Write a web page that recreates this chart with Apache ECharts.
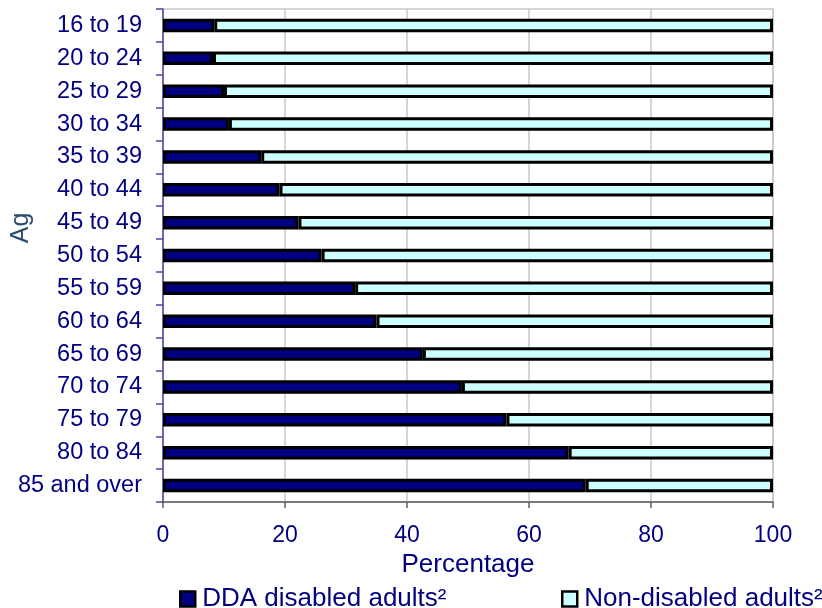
<!DOCTYPE html>
<html>
<head>
<meta charset="utf-8">
<script src="https://cdn.jsdelivr.net/npm/echarts@6/dist/echarts.min.js"></script>
<style>
html,body{margin:0;padding:0;background:#fff;}
#c{width:822px;height:608px;}
</style>
</head>
<body>
<div id="c"></div>
<script>
const categories = ['16 to 19','20 to 24','25 to 29','30 to 34','35 to 39','40 to 44','45 to 49','50 to 54','55 to 59','60 to 64','65 to 69','70 to 74','75 to 79','80 to 84','85 and over'];
const ddaDisabled = [8.4, 8.2, 10.0, 10.8, 16.1, 19.1, 22.2, 26.0, 31.5, 35.0, 42.6, 49.0, 56.3, 66.5, 69.3];
const nonDisabled = [91.6, 91.8, 90.0, 89.2, 83.9, 80.9, 77.8, 74.0, 68.5, 65.0, 57.4, 51.0, 43.7, 33.5, 30.7];
const xTicks = [0, 20, 40, 60, 80, 100];
const seriesNames = ['DDA disabled adults\u00B2', 'Non-disabled adults\u00B2'];
const yAxisTitle = 'Ag';

const FONT = 'Liberation Sans, Arial, sans-serif';
const NAVY = '#000080';
const chart = echarts.init(document.getElementById('c'));
chart.setOption({
  animation: false,
  textStyle: {fontFamily: FONT},
  grid: {left: 163, right: 49, top: 9, bottom: 106, show: true, borderColor: '#c8c8c8', borderWidth: 1.5,
         outerBoundsMode: 'none', containLabel: false},
  graphic: [{
    type: 'text', x: 21, y: 228, rotation: Math.PI / 2,
    style: {text: yAxisTitle, fill: '#2b4a72', font: '25px Liberation Sans, Arial, sans-serif',
            align: 'center', verticalAlign: 'middle'}
  }],
  legend: [
    {data: [seriesNames[0]], left: 174, top: 581, itemWidth: 15, itemHeight: 15, itemGap: 0,
     textStyle: {color: NAVY, fontSize: 26, fontFamily: FONT, padding: [0,0,0,2]}, icon: 'rect',
     itemStyle: {borderWidth: 2.5}},
    {data: [seriesNames[1]], left: 556, top: 581, itemWidth: 15, itemHeight: 15, itemGap: 0,
     textStyle: {color: NAVY, fontSize: 26, fontFamily: FONT, padding: [0,0,0,2]}, icon: 'rect',
     itemStyle: {borderWidth: 2.5}}
  ],
  xAxis: {
    type: 'value', min: xTicks[0], max: xTicks[xTicks.length-1], interval: 20,
    name: 'Percentage', nameLocation: 'middle', nameGap: 44,
    nameTextStyle: {color: NAVY, fontSize: 26, fontFamily: FONT},
    axisLine: {show: true, lineStyle: {color: '#606060', width: 1.5}},
    axisTick: {show: true, length: 6, lineStyle: {color: '#606060', width: 1.5}},
    axisLabel: {color: NAVY, fontSize: 23, fontFamily: FONT, margin: 22},
    splitLine: {show: true, lineStyle: {color: '#c8c8c8', width: 1.5}}
  },
  yAxis: {
    type: 'category', data: categories, inverse: true,
    axisLine: {show: true, lineStyle: {color: '#4848b0', width: 1.5}},
    axisTick: {show: true, length: 7, lineStyle: {color: '#4848b0', width: 1.5}},
    axisLabel: {color: NAVY, fontSize: 23.5, fontFamily: FONT, margin: 21},
    splitLine: {show: false}
  },
  series: [
    {name: seriesNames[0], type: 'bar', stack: 'a', data: ddaDisabled, barWidth: 13.5,
     itemStyle: {color: NAVY, borderColor: '#000', borderWidth: 3}},
    {name: seriesNames[1], type: 'bar', stack: 'a', data: nonDisabled, barWidth: 13.5,
     itemStyle: {color: '#ccffff', borderColor: '#000', borderWidth: 3}}
  ]
});
</script>
</body>
</html>
